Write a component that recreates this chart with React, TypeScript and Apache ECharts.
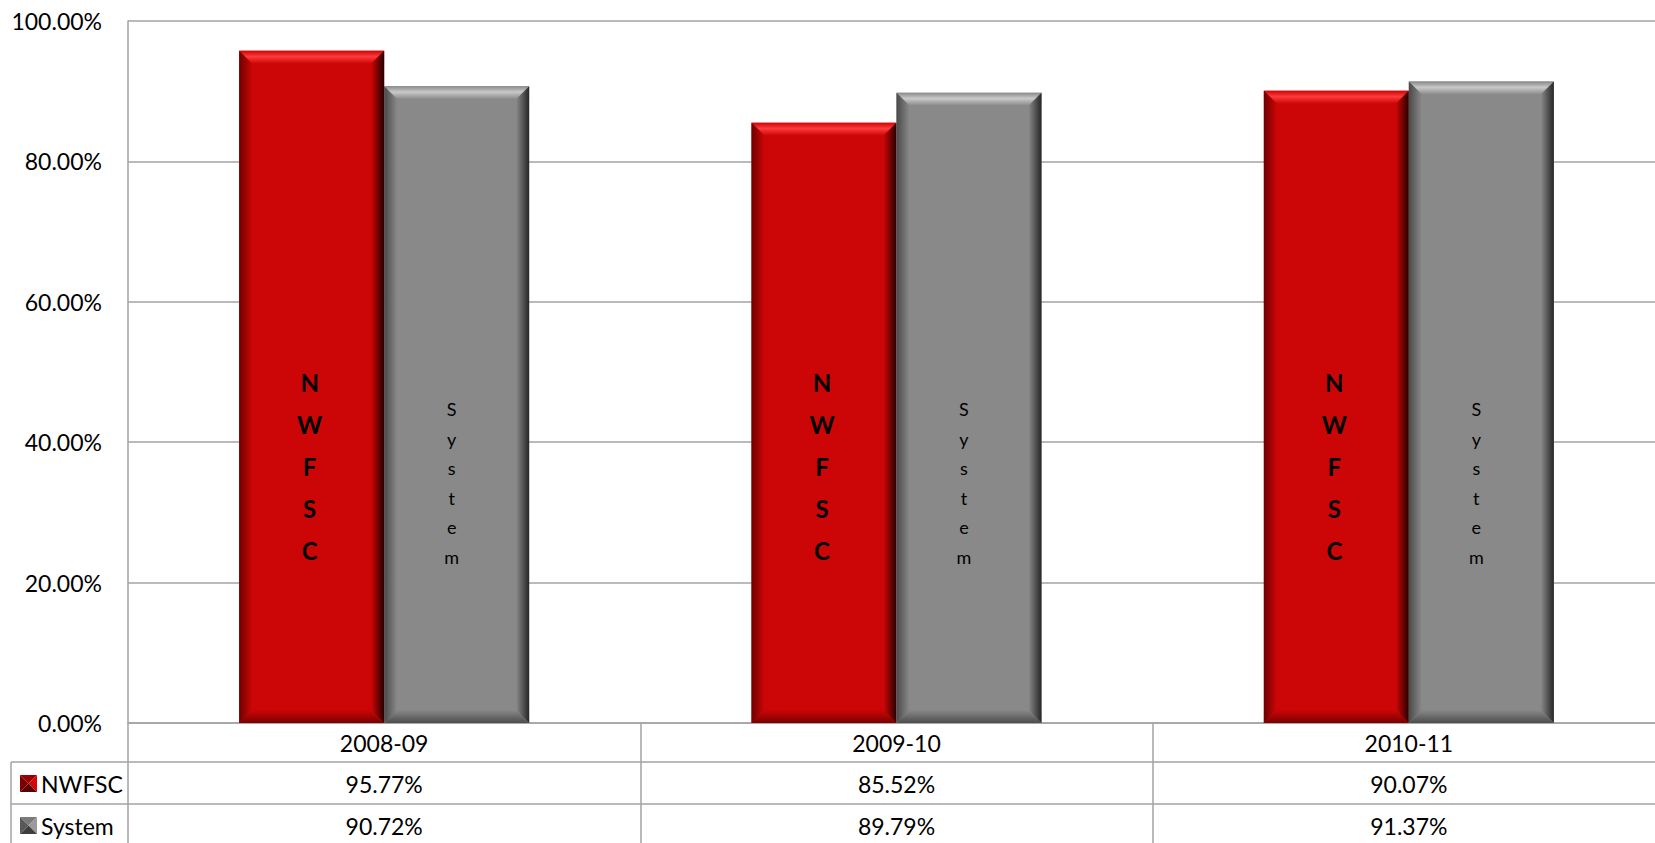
import React, { useEffect, useRef } from 'react';
import * as echarts from 'echarts';

const categories = ['2008-09', '2009-10', '2010-11'];
const seriesNames = ['NWFSC', 'System'];
const nwfscValues = [95.77, 85.52, 90.07];
const systemValues = [90.72, 89.79, 91.37];
const yMin = 0;
const yMax = 100;
const yInterval = 20;

const FONT = 'Lato';
const LINE = '#a3a3a3';
const FS = 23;

const fmt = (v: number) => v.toFixed(2) + '%';

type Pal = { base: string; light: string; left: string; right: string; bottom: string };
const redPal: Pal = { base: '#cc0606', light: '#ff3a3a', left: '#6e0000', right: '#250000', bottom: '#7a0000' };
const grayPal: Pal = { base: '#898989', light: '#c9c9c9', left: '#4a4a4a', right: '#262626', bottom: '#4d4d4d' };

function makeRender(side: number, pal: Pal, name: string, label: any, labelValue: number, dx: number) {
  return (params: any, api: any) => {
    const idx = api.value(0);
    const val = api.value(1);
    const base = api.coord([idx, 0]);
    const topP = api.coord([idx, val]);
    const band = api.size([1, 0])[0];
    const w = band * 0.283;
    const x0 = base[0] + (side < 0 ? -w : 0);
    const x1 = x0 + w;
    const y0 = topP[1];
    const y1 = base[1];
    const b = 13;
    const LG = (a: number, c: number, d: number, e: number, stops: any) =>
      new echarts.graphic.LinearGradient(a, c, d, e, stops);
    const ly = api.coord([idx, labelValue])[1];
    const cx = (x0 + x1) / 2 + dx;
    return {
      type: 'group',
      children: [
        { type: 'rect', shape: { x: x0, y: y0, width: w, height: y1 - y0 }, style: { fill: pal.base } },
        {
          type: 'polygon',
          shape: { points: [[x0, y0], [x1, y0], [x1 - b, y0 + b], [x0 + b, y0 + b]] },
          style: {
            fill: LG(0, 0, 0, 1, [
              { offset: 0, color: pal.base },
              { offset: 0.45, color: pal.light },
              { offset: 1, color: pal.base },
            ]),
          },
        },
        {
          type: 'polygon',
          shape: { points: [[x0, y0], [x0 + b, y0 + b], [x0 + b, y1 - b], [x0, y1]] },
          style: {
            fill: LG(0, 0, 1, 0, [
              { offset: 0, color: pal.left },
              { offset: 1, color: pal.base },
            ]),
          },
        },
        {
          type: 'polygon',
          shape: { points: [[x1, y0], [x1, y1], [x1 - b, y1 - b], [x1 - b, y0 + b]] },
          style: {
            fill: LG(0, 0, 1, 0, [
              { offset: 0, color: pal.base },
              { offset: 1, color: pal.right },
            ]),
          },
        },
        {
          type: 'polygon',
          shape: { points: [[x0, y1], [x0 + b, y1 - b], [x1 - b, y1 - b], [x1, y1]] },
          style: {
            fill: LG(0, 0, 0, 1, [
              { offset: 0, color: pal.base },
              { offset: 1, color: pal.bottom },
            ]),
          },
        },
        {
          type: 'text',
          x: cx,
          y: ly,
          style: {
            text: name.split('').join('\n'),
            fill: '#000',
            fontFamily: FONT,
            align: 'center',
            verticalAlign: 'middle',
            ...label,
          },
        },
      ],
    };
  };
}

function keyIcon(x: number, y: number, cols: string[]) {
  const s = 17;
  const c = s / 2;
  return {
    type: 'group',
    x,
    y,
    children: [
      { type: 'polygon', shape: { points: [[0, 0], [s, 0], [c, c]] }, style: { fill: cols[0] } },
      { type: 'polygon', shape: { points: [[s, 0], [s, s], [c, c]] }, style: { fill: cols[1] } },
      { type: 'polygon', shape: { points: [[s, s], [0, s], [c, c]] }, style: { fill: cols[2] } },
      { type: 'polygon', shape: { points: [[0, s], [0, 0], [c, c]] }, style: { fill: cols[3] } },
    ],
  };
}

export default function App() {
  const ref = useRef<HTMLDivElement>(null);
  useEffect(() => {
    if (!ref.current) return;
    const chart = echarts.init(ref.current, null, { renderer: 'svg' });
    const labelStyle = { fontFamily: FONT, fontSize: FS, lineHeight: FS, color: '#000' };
    const hidden = { show: false };
    const option: any = {
      animation: false,
      backgroundColor: '#fff',
      grid: {
        left: 128,
        width: 1537,
        top: 21,
        height: 702,
        containLabel: false,
        outerBoundsMode: 'none',
      },
      yAxis: {
        type: 'value',
        min: yMin,
        max: yMax,
        interval: yInterval,
        axisLine: { show: true, lineStyle: { color: LINE, width: 1.5 } },
        axisTick: hidden,
        splitLine: { show: true, lineStyle: { color: LINE, width: 1.5 } },
        axisLabel: { ...labelStyle, margin: 26, formatter: (v: number) => fmt(v) },
      },
      xAxis: [
        {
          type: 'category',
          data: categories,
          position: 'bottom',
          axisLine: { show: true, lineStyle: { color: LINE, width: 1.5 } },
          axisTick: { show: true, length: 122, alignWithLabel: false, lineStyle: { color: LINE, width: 1.5 } },
          axisLabel: { ...labelStyle, margin: 8 },
        },
        {
          type: 'category',
          data: categories,
          position: 'bottom',
          offset: 41,
          axisLine: hidden,
          axisTick: hidden,
          axisLabel: { ...labelStyle, margin: 8, formatter: (_v: string, i: number) => fmt(nwfscValues[i]) },
        },
        {
          type: 'category',
          data: categories,
          position: 'bottom',
          offset: 83,
          axisLine: hidden,
          axisTick: hidden,
          axisLabel: { ...labelStyle, margin: 8, formatter: (_v: string, i: number) => fmt(systemValues[i]) },
        },
      ],
      series: [
        {
          type: 'custom',
          name: seriesNames[0],
          xAxisIndex: 0,
          yAxisIndex: 0,
          encode: { x: 0, y: 1 },
          data: nwfscValues.map((v, i) => [i, v]),
          renderItem: makeRender(-1, redPal, seriesNames[0], { fontSize: 24, fontWeight: 'bold', lineHeight: 42 }, 36.5, -2),
        },
        {
          type: 'custom',
          name: seriesNames[1],
          xAxisIndex: 0,
          yAxisIndex: 0,
          encode: { x: 0, y: 1 },
          data: systemValues.map((v, i) => [i, v]),
          renderItem: makeRender(1, grayPal, seriesNames[1], { fontSize: 18, fontWeight: 'normal', lineHeight: 29.5 }, 34.2, -5),
        },
      ],
      graphic: [
        { type: 'line', shape: { x1: 11, y1: 762, x2: 1655, y2: 762 }, style: { stroke: LINE, lineWidth: 1.5 } },
        { type: 'line', shape: { x1: 11, y1: 804, x2: 1655, y2: 804 }, style: { stroke: LINE, lineWidth: 1.5 } },
        { type: 'line', shape: { x1: 11, y1: 762, x2: 11, y2: 843 }, style: { stroke: LINE, lineWidth: 1.5 } },
        keyIcon(20, 775, ['#9a0000', '#d40808', '#5a0000', '#7a0000']),
        keyIcon(20, 817, ['#7a7a7a', '#9a9a9a', '#3e3e3e', '#585858']),
        {
          type: 'text',
          x: 41,
          y: 784,
          style: { text: seriesNames[0], fontFamily: FONT, fontSize: FS, fill: '#000', verticalAlign: 'middle' },
        },
        {
          type: 'text',
          x: 41,
          y: 826,
          style: { text: seriesNames[1], fontFamily: FONT, fontSize: FS, fill: '#000', verticalAlign: 'middle' },
        },
      ],
    };
    chart.setOption(option);
    return () => chart.dispose();
  }, []);
  return (
    <div
      ref={ref}
      style={{ position: 'fixed', left: 0, top: 0, width: 1655, height: 843, background: '#fff' }}
    />
  );
}
